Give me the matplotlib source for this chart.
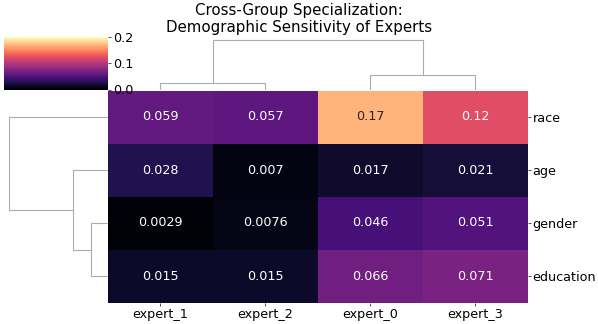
import numpy as np
import matplotlib
matplotlib.use("Agg")
import matplotlib.pyplot as plt
from matplotlib.collections import LineCollection
import seaborn as sns

# ---- data ----
experts = ["expert_0", "expert_1", "expert_2", "expert_3"]
groups = ["race", "age", "gender", "education"]
race = [0.168, 0.059, 0.057, 0.122]
age = [0.017, 0.028, 0.007, 0.021]
gender = [0.046, 0.0029, 0.0076, 0.051]
education = [0.066, 0.015, 0.015, 0.071]
title = "Cross-Group Specialization:\nDemographic Sensitivity of Experts"

data = np.array([race, age, gender, education])


def ward_linkage(X):
    n = len(X)
    D = {}
    for i in range(n):
        for j in range(i + 1, n):
            D[(i, j)] = float(np.linalg.norm(X[i] - X[j]))
    sizes = {i: 1 for i in range(n)}
    active = list(range(n))
    Z = []
    nid = n
    while len(active) > 1:
        best = None
        for ii, a in enumerate(active):
            for b in active[ii + 1:]:
                d = D[(min(a, b), max(a, b))]
                if best is None or d < best[0]:
                    best = (d, min(a, b), max(a, b))
        d, a, b = best
        sizes[nid] = sizes[a] + sizes[b]
        for k in active:
            if k in (a, b):
                continue
            dka = D[(min(k, a), max(k, a))]
            dkb = D[(min(k, b), max(k, b))]
            T = sizes[k] + sizes[a] + sizes[b]
            val = ((sizes[k] + sizes[a]) * dka ** 2 + (sizes[k] + sizes[b]) * dkb ** 2
                   - sizes[k] * d ** 2) / T
            D[(k, nid)] = float(np.sqrt(max(val, 0)))
        active.remove(a)
        active.remove(b)
        active.append(nid)
        Z.append((a, b, d))
        nid += 1
    return Z, n


def dendro(Z, n):
    segs = []
    order = []

    def rec(node):
        if node < n:
            pos = 5 + 10 * len(order)
            order.append(node)
            return pos, 0.0
        a, b, h = Z[node - n]
        xa, ha = rec(a)
        xb, hb = rec(b)
        segs.append(([xa, xa, xb, xb], [ha, h, h, hb]))
        return (xa + xb) / 2, h

    rec(n + len(Z) - 1)
    maxh = max(z[2] for z in Z)
    return segs, order, maxh


Zr, nr = ward_linkage(data)
Zc, nc = ward_linkage(data.T)
rsegs, rorder, rmax = dendro(Zr, nr)
csegs, corder, cmax = dendro(Zc, nc)

W, H = 598, 324
fig = plt.figure(figsize=(W / 100, H / 100), dpi=100)


def ax_px(x0, y0, x1, y1):
    return fig.add_axes([x0 / W, 1 - y1 / H, (x1 - x0) / W, (y1 - y0) / H])


ax_heat = ax_px(108, 90.5, 527.5, 302.5)
ax_col = ax_px(108, 37, 527.5, 89.5)
ax_row = ax_px(4, 90.5, 107.5, 302.5)
ax_cb = ax_px(4, 37, 108, 89.5)

lc_kw = dict(colors="0.68", linewidths=0.8)

# column dendrogram
lines = [list(zip(xs, ys)) for xs, ys in csegs]
ax_col.add_collection(LineCollection(lines, **lc_kw))
ax_col.set_xlim(0, nc * 10)
ax_col.set_ylim(0, cmax * 1.05)
ax_col.set_axis_off()

# row dendrogram
lines = [list(zip(ys, xs)) for xs, ys in rsegs]
ax_row.add_collection(LineCollection(lines, **lc_kw))
ax_row.set_ylim(0, nr * 10)
ax_row.set_xlim(0, rmax * 1.05)
ax_row.invert_xaxis()
ax_row.invert_yaxis()
ax_row.set_axis_off()

plot_data = data[np.ix_(rorder, corder)]
sns.heatmap(plot_data, ax=ax_heat, cbar_ax=ax_cb, cmap="magma", vmin=0, vmax=0.2,
            annot=True, fmt=".2g", annot_kws={"size": 9.2},
            xticklabels=[experts[i] for i in corder],
            yticklabels=[groups[i] for i in rorder])
ax_heat.yaxis.tick_right()
ax_heat.set_yticklabels([groups[i] for i in rorder], rotation=0, fontsize=9.2)
ax_heat.set_xticklabels([experts[i] for i in corder], rotation=0, fontsize=9.2)
ax_heat.tick_params(axis="both", length=2.2, width=0.7, pad=1.5, color="0.3")

ax_cb.set_yticks([0, 0.1, 0.2])
ax_cb.set_yticklabels(["0.0", "0.1", "0.2"])
ax_cb.tick_params(labelsize=9.2, length=2.2, width=0.7, pad=1.5, color="0.3")
ax_cb.yaxis.tick_right()

fig.text(0.5, 1 - 3.5 / H, title, ha="center", va="top", fontsize=10.8,
         linespacing=1.1)

fig.savefig("out.png", dpi=100)
